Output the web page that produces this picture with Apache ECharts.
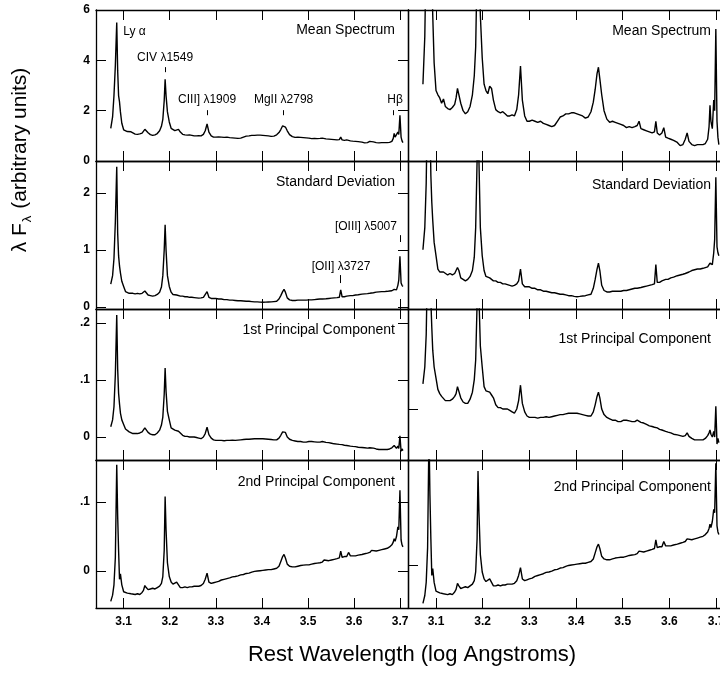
<!DOCTYPE html>
<html><head><meta charset="utf-8">
<script src="https://cdn.jsdelivr.net/npm/echarts@6/dist/echarts.min.js"></script>
<style>html,body{margin:0;padding:0;background:#fff}#c{width:720px;height:676px}</style>
</head><body><div id="c"></div>
<script>
// ---- data ----
const logLambda = [
 3.072,3.076,3.079,3.082,3.085,3.087,3.089,3.091,3.093,3.096,
 3.100,3.104,3.108,3.112,3.116,3.120,3.125,3.130,3.135,3.140,
 3.143,3.146,3.149,3.153,3.158,3.163,3.168,3.173,3.178,3.182,
 3.185,3.188,3.190,3.192,3.195,3.199,3.203,3.207,3.211,3.215,
 3.219,3.223,3.228,3.233,3.238,3.243,3.248,3.253,3.258,3.263,
 3.268,3.273,3.277,3.281,3.285,3.290,3.295,3.300,3.306,3.312,
 3.318,3.324,3.330,3.336,3.342,3.348,3.354,3.360,3.366,3.372,
 3.378,3.384,3.390,3.396,3.402,3.408,3.414,3.420,3.426,3.432,
 3.437,3.441,3.445,3.448,3.451,3.455,3.460,3.466,3.472,3.478,
 3.484,3.490,3.496,3.502,3.508,3.514,3.520,3.526,3.531,3.535,
 3.539,3.545,3.551,3.557,3.563,3.568,3.571,3.574,3.579,3.584,
 3.588,3.592,3.597,3.603,3.609,3.613,3.617,3.623,3.629,3.634,
 3.638,3.642,3.648,3.654,3.660,3.666,3.672,3.677,3.682,3.685,
 3.687,3.689,3.692,3.695,3.697,3.6995,3.702,3.704,3.706
];
const meanSpectrum = [
 1.30,1.75,2.6,3.8,5.5,3.6,2.6,2.35,1.95,1.5,
 1.24,1.2,1.17,1.12,1.16,1.09,1.07,1.06,1.08,1.11,
 1.17,1.26,1.27,1.12,1.05,1.02,1.04,1.09,1.2,1.38,
 1.65,2.4,3.25,2.6,1.95,1.55,1.3,1.24,1.21,1.28,
 1.26,1.15,1.06,1.04,1.03,1.04,1.02,1.0,1.0,1.01,
 1.0,1.06,1.2,1.47,1.15,1.0,0.95,0.95,0.96,0.95,
 0.94,0.95,0.93,0.92,0.91,0.9,0.91,0.95,0.99,1.0,
 1.02,1.02,1.03,1.03,1.02,1.01,1.0,0.98,0.99,1.04,
 1.13,1.25,1.4,1.46,1.35,1.2,1.05,0.97,0.94,0.95,
 0.94,0.93,0.92,0.91,0.89,0.9,0.89,0.9,0.91,0.95,
 0.88,0.87,0.86,0.85,0.84,0.85,0.95,0.84,0.82,0.84,
 0.89,0.8,0.79,0.78,0.77,0.78,0.75,0.72,0.73,0.78,
 0.84,0.76,0.73,0.72,0.73,0.73,0.73,0.74,0.78,0.9,
 1.1,0.95,0.88,1.15,1.05,1.82,0.95,0.8,0.73
];
const stdDeviation = [
 0.40,0.55,0.85,1.5,2.46,1.3,0.9,0.72,0.6,0.45,
 0.36,0.27,0.25,0.24,0.25,0.24,0.23,0.24,0.23,0.24,
 0.25,0.28,0.26,0.21,0.2,0.19,0.2,0.22,0.26,0.35,
 0.55,1.0,1.44,1.0,0.55,0.36,0.26,0.22,0.21,0.21,
 0.2,0.19,0.19,0.18,0.18,0.17,0.17,0.165,0.16,0.155,
 0.16,0.17,0.19,0.27,0.17,0.15,0.15,0.15,0.14,0.14,
 0.13,0.13,0.12,0.12,0.115,0.11,0.11,0.105,0.1,0.1,
 0.095,0.09,0.09,0.085,0.083,0.085,0.088,0.09,0.095,0.1,
 0.14,0.2,0.27,0.31,0.26,0.16,0.125,0.115,0.115,0.12,
 0.12,0.12,0.12,0.125,0.125,0.13,0.135,0.14,0.14,0.145,
 0.145,0.15,0.155,0.16,0.165,0.17,0.3,0.18,0.18,0.19,
 0.2,0.2,0.2,0.21,0.215,0.22,0.225,0.23,0.235,0.24,
 0.245,0.25,0.26,0.265,0.27,0.27,0.275,0.28,0.285,0.29,
 0.31,0.3,0.3,0.38,0.47,0.89,0.42,0.38,0.36
];
const pc1 = [
 0.018,0.03,0.053,0.11,0.214,0.12,0.077,0.058,0.042,0.03,
 0.022,0.014,0.011,0.009,0.008,0.006,0.006,0.006,0.007,0.009,
 0.011,0.016,0.017,0.008,0.005,0.004,0.004,0.007,0.012,0.021,
 0.035,0.075,0.121,0.08,0.045,0.03,0.016,0.013,0.012,0.012,
 0.01,0.008,0.003,0.001,0.001,0.0,0.0,0.0,-0.001,-0.002,
 -0.003,0.0,0.006,0.017,0.004,-0.002,-0.005,-0.006,-0.006,-0.006,
 -0.0065,-0.006,-0.006,-0.0055,-0.006,-0.0055,-0.005,-0.0045,-0.004,-0.004,
 -0.0035,-0.003,-0.003,-0.003,-0.003,-0.0035,-0.004,-0.0045,-0.005,-0.005,
 -0.002,0.003,0.009,0.012,0.008,0.0,-0.004,-0.006,-0.007,-0.008,
 -0.008,-0.009,-0.009,-0.008,-0.008,-0.0085,-0.009,-0.009,-0.008,-0.007,
 -0.0095,-0.01,-0.011,-0.012,-0.0125,-0.013,-0.012,-0.0135,-0.0145,-0.015,
 -0.0145,-0.016,-0.0165,-0.017,-0.018,-0.0175,-0.0185,-0.019,-0.0195,-0.019,
 -0.017,-0.0195,-0.021,-0.022,-0.022,-0.022,-0.022,-0.021,-0.019,-0.017,
 -0.015,-0.018,-0.02,-0.016,-0.02,0.002,-0.025,-0.021,-0.024
];
const pc2 = [
 -0.044,-0.035,-0.02,0.02,0.154,0.08,0.03,-0.012,-0.004,-0.02,
 -0.03,-0.031,-0.032,-0.031,-0.033,-0.032,-0.034,-0.033,-0.034,-0.031,
 -0.028,-0.021,-0.024,-0.027,-0.026,-0.025,-0.026,-0.024,-0.022,-0.018,
 -0.008,0.03,0.108,0.06,0.012,-0.008,-0.016,-0.019,-0.018,-0.016,
 -0.02,-0.024,-0.024,-0.023,-0.024,-0.023,-0.023,-0.022,-0.022,-0.022,
 -0.021,-0.018,-0.012,-0.003,-0.016,-0.018,-0.017,-0.016,-0.015,-0.013,
 -0.012,-0.011,-0.01,-0.0085,-0.008,-0.007,-0.0055,-0.005,-0.0035,-0.003,
 -0.0015,-0.0005,0.0,0.0005,0.001,0.0015,0.002,0.002,0.003,0.004,
 0.007,0.014,0.021,0.024,0.019,0.01,0.007,0.006,0.006,0.007,
 0.008,0.0085,0.009,0.009,0.01,0.011,0.0115,0.012,0.013,0.016,
 0.014,0.015,0.016,0.017,0.018,0.019,0.029,0.02,0.021,0.021,
 0.027,0.022,0.022,0.022,0.023,0.024,0.024,0.025,0.026,0.027,
 0.03,0.028,0.029,0.03,0.031,0.032,0.033,0.035,0.038,0.042,
 0.047,0.043,0.05,0.064,0.06,0.117,0.045,0.038,0.035
];
const xTicks = [3.1,3.2,3.3,3.4,3.5,3.6,3.7];
const leftYTicks = [[0,2,4,6],[0,1,2],[0,0.1,0.2],[0,0.1]];
const rightYTicks = [[],[],[0],[0]];
const panelTitles = ['Mean Spectrum','Standard Deviation','1st Principal Component','2nd Principal Component'];
const lineNames = ['Ly α','CIV λ1549','CIII] λ1909','MgII λ2798','Hβ','[OIII] λ5007','[OII] λ3727'];
const lineWave  = [3.099, 3.190, 3.281, 3.447, 3.689, 3.693, 3.5716];
const lineLevel = [5.13, 4.09, 2.42, 2.42, 2.42, 1.40, 0.70];

// ---- layout ----
const FONT = '"Liberation Sans", Arial, Helvetica, sans-serif';
const rows = [{top:10,height:151},{top:161,height:148},{top:309,height:151},{top:460,height:148}];
const cols = [{left:96,width:312},{left:408,width:316}];
const xRange = [3.04, 3.717];
const yRanges = [
  [[0,6],[0.575,2.0]],
  [[-0.035,2.56],[0,1.0]],
  [[-0.0404,0.2246],[-0.0364,0.0714]],
  [[-0.0536,0.161],[-0.0494,0.1207]]
];
const annoPanel = [0,0,0,0,0,1,1];
const annoAlign = ['left','center','center','center','center','right','center'];
const annoTick = [null,[3.53,3.73],[1.82,2.02],[1.82,2.02],[1.82,2.02],[1.14,1.26],[0.42,0.56]];
const annoTickX = [null,3.190,3.281,3.447,3.686,3.6995,3.571];
const titleY = [[30,31],[182,185],[330,339],[482,487]];
const titleRight = [395,711];

const seriesData = [meanSpectrum, stdDeviation, pc1, pc2];
function fmtY(v){ if (Math.abs(v)<1e-9) return '0'; const s=String(+v.toFixed(3)); return s.startsWith('0.')?s.slice(1):s; }
const black = {color:'#000', width:1.3};
const grid=[], xAxis=[], yAxis=[], series=[];
rows.forEach((r,ri)=>cols.forEach((c,ci)=>{
  const g = grid.length;
  grid.push({left:c.left, top:r.top, width:c.width, height:r.height, containLabel:false, outerBoundsMode:'none'});
  const xl = ri===3;
  xAxis.push({type:'value', gridIndex:g, position:'bottom', min:xRange[0], max:xRange[1],
    axisLine:{show:true,onZero:false,lineStyle:black},
    axisTick:{show:true,inside:true,length:10,customValues:xTicks,lineStyle:{color:'#000',width:1}},
    axisLabel:{show:xl,customValues:xTicks,formatter:v=>v.toFixed(1),color:'#000',fontFamily:FONT,fontSize:12,fontWeight:'bold',margin:8,showMinLabel:true,showMaxLabel:true},
    splitLine:{show:false}});
  xAxis.push({type:'value', gridIndex:g, position:'top', min:xRange[0], max:xRange[1],
    axisLine:{show:true,onZero:false,lineStyle:black},
    axisTick:{show:true,inside:true,length:10,customValues:xTicks,lineStyle:{color:'#000',width:1}},
    axisLabel:{show:false}, splitLine:{show:false}});
  const yr = yRanges[ri][ci];
  const lt = ci===0 ? leftYTicks[ri] : rightYTicks[ri];
  yAxis.push({type:'value', gridIndex:g, position:'left', min:yr[0], max:yr[1],
    axisLine:{show:true,onZero:false,lineStyle:black},
    axisTick:{show:lt.length>0,inside:true,length:10,customValues:lt.length?lt:undefined,lineStyle:{color:'#000',width:1}},
    axisLabel:{show:ci===0,customValues:lt.length?lt:undefined,formatter:fmtY,color:'#000',fontFamily:FONT,fontSize:12,fontWeight:'bold',margin:6,showMinLabel:true,showMaxLabel:true},
    splitLine:{show:false}});
  yAxis.push({type:'value', gridIndex:g, position:'right', min:yr[0], max:yr[1],
    axisLine:{show:true,onZero:false,lineStyle:black},
    axisTick:{show:ci===0,inside:true,length:10,customValues:ci===0?lt:undefined,lineStyle:{color:'#000',width:1}},
    axisLabel:{show:false}, splitLine:{show:false}});
  const s = {type:'line', xAxisIndex:2*g, yAxisIndex:2*g, symbol:'none', showSymbol:false, clip:true,
    silent:true, animation:false, lineStyle:{color:'#000',width:1.4},
    data: logLambda.map((x,i)=>[x, seriesData[ri][i]])};
  if (ci===0 && (ri===0 || ri===1)) {
    const md = [];
    lineNames.forEach((n,k)=>{
      if (annoPanel[k]===ri && annoTick[k]) md.push([{coord:[annoTickX[k],annoTick[k][0]]},{coord:[annoTickX[k],annoTick[k][1]]}]);
    });
    s.markLine = {silent:true, symbol:['none','none'], animation:false, label:{show:false},
      lineStyle:{color:'#000',width:1,type:'solid'}, data: md};
  }
  series.push(s);
}));

const chart = echarts.init(document.getElementById('c'), null, {renderer:'canvas'});
chart.setOption({animation:false, backgroundColor:'#fff', grid, xAxis, yAxis, series});

const graphic = [];
rows.forEach((r,ri)=>cols.forEach((c,ci)=>{
  graphic.push({type:'text', x:titleRight[ci], y:titleY[ri][ci], silent:true,
    style:{text:panelTitles[ri], font:'14px '+FONT, fill:'#000', align:'right', verticalAlign:'middle'}});
}));
lineNames.forEach((n,k)=>{
  const g = annoPanel[k]*2;
  const p = chart.convertToPixel({xAxisIndex:2*g, yAxisIndex:2*g},[lineWave[k],lineLevel[k]]);
  graphic.push({type:'text', x:p[0], y:p[1], silent:true,
    style:{text:n, font:'12px '+FONT, fill:'#000', align:annoAlign[k], verticalAlign:'middle'}});
});
graphic.push({type:'text', x:412, y:655, silent:true,
  style:{text:'Rest Wavelength (log Angstroms)', font:'22px '+FONT, fill:'#000', align:'center', verticalAlign:'middle'}});
graphic.push({type:'text', x:20, y:160, rotation:Math.PI/2, silent:true,
  style:{text:'{m|λ F}{s|λ}{m| (arbitrary units)}', fill:'#000', align:'center', verticalAlign:'middle',
    rich:{m:{font:'21px '+FONT, fill:'#000', lineHeight:28, verticalAlign:'middle'},
          s:{font:'13px '+FONT, fill:'#000', lineHeight:28, verticalAlign:'bottom', padding:[0,1,0,1]}}}});
chart.setOption({graphic});
</script></body></html>
